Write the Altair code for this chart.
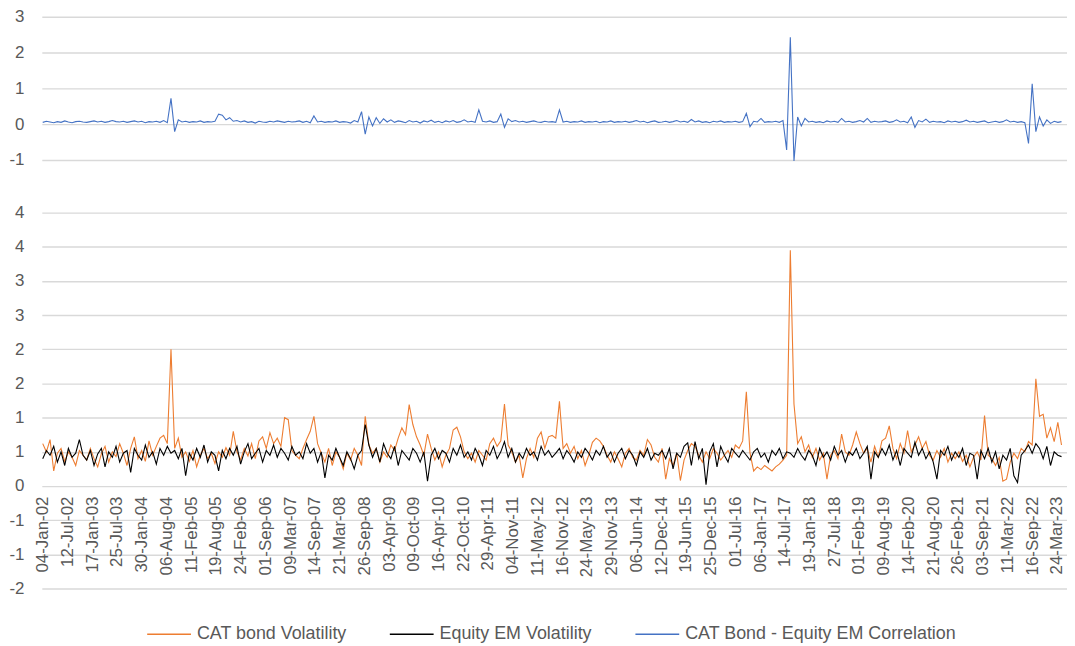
import altair as alt
import pandas as pd

# ---------------- data ----------------
tick_labels = [
    "04-Jan-02", "12-Jul-02", "17-Jan-03", "25-Jul-03", "30-Jan-04", "06-Aug-04",
    "11-Feb-05", "19-Aug-05", "24-Feb-06", "01-Sep-06", "09-Mar-07", "14-Sep-07",
    "21-Mar-08", "26-Sep-08", "03-Apr-09", "09-Oct-09", "16-Apr-10", "22-Oct-10",
    "29-Apr-11", "04-Nov-11", "11-May-12", "16-Nov-12", "24-May-13", "29-Nov-13",
    "06-Jun-14", "12-Dec-14", "19-Jun-15", "25-Dec-15", "01-Jul-16", "06-Jan-17",
    "14-Jul-17", "19-Jan-18", "27-Jul-18", "01-Feb-19", "09-Aug-19", "14-Feb-20",
    "21-Aug-20", "26-Feb-21", "03-Sep-21", "11-Mar-22", "16-Sep-22", "24-Mar-23",
]

# one value every 4 weeks, starting 04-Jan-02
cat_vol = [
    0.62, 0.50, 0.68, 0.22, 0.48, 0.55, 0.36, 0.50, 0.42, 0.30,
    0.52, 0.45, 0.38, 0.55, 0.40, 0.28, 0.47, 0.58, 0.35, 0.50,
    0.43, 0.62, 0.48, 0.30, 0.55, 0.72, 0.40, 0.52, 0.36, 0.66,
    0.45, 0.58, 0.70, 0.74, 0.62, 2.00, 0.55, 0.70, 0.42, 0.50,
    0.36, 0.52, 0.28, 0.45, 0.55, 0.40, 0.48, 0.33, 0.50, 0.42,
    0.56, 0.45, 0.80, 0.50, 0.38, 0.55, 0.44, 0.62, 0.40, 0.66,
    0.72, 0.55, 0.78, 0.62, 0.70, 0.58, 1.00, 0.97, 0.52, 0.45,
    0.40, 0.55, 0.68, 0.80, 1.02, 0.62, 0.48, 0.35, 0.55, 0.30,
    0.50, 0.42, 0.25, 0.48, 0.38, 0.55, 0.45, 0.30, 1.02, 0.60,
    0.48, 0.55, 0.35, 0.50, 0.42, 0.60, 0.52, 0.70, 0.85, 0.75,
    1.19, 0.90, 0.72, 0.60, 0.45, 0.76, 0.55, 0.38, 0.50, 0.28,
    0.45, 0.55, 0.82, 0.86, 0.72, 0.50, 0.40, 0.48, 0.35, 0.52,
    0.45, 0.38, 0.62, 0.70, 0.58, 0.66, 1.20, 0.60, 0.50, 0.35,
    0.45, 0.12, 0.40, 0.55, 0.42, 0.70, 0.79, 0.55, 0.72, 0.74,
    0.70, 1.24, 0.55, 0.62, 0.48, 0.58, 0.40, 0.52, 0.30, 0.45,
    0.64, 0.70, 0.66, 0.58, 0.45, 0.35, 0.50, 0.40, 0.28, 0.48,
    0.55, 0.42, 0.38, 0.52, 0.45, 0.68, 0.60, 0.42, 0.35, 0.55,
    0.10, 0.40, 0.30, 0.48, 0.08, 0.38, 0.52, 0.62, 0.58, 0.45,
    0.35, 0.50, 0.40, 0.55, 0.48, 0.38, 0.45, 0.52, 0.42, 0.60,
    0.55, 0.66, 1.38, 0.48, 0.22, 0.28, 0.24, 0.30, 0.26, 0.22,
    0.28, 0.32, 0.38, 0.45, 3.45, 1.20, 0.62, 0.72, 0.50, 0.60,
    0.42, 0.55, 0.38, 0.48, 0.10, 0.45, 0.52, 0.40, 0.76, 0.50,
    0.45, 0.60, 0.79, 0.62, 0.48, 0.55, 0.35, 0.58, 0.42, 0.66,
    0.70, 0.88, 0.55, 0.40, 0.62, 0.48, 0.81, 0.50, 0.60, 0.72,
    0.55, 0.65, 0.45, 0.38, 0.52, 0.42, 0.55, 0.35, 0.48, 0.40,
    0.50, 0.36, 0.45, 0.28, 0.42, 0.50, 0.38, 1.03, 0.45, 0.40,
    0.30, 0.42, 0.07, 0.10, 0.35, 0.48, 0.40, 0.55, 0.50, 0.65,
    0.60, 1.57, 1.02, 1.05, 0.70, 0.85, 0.65, 0.93, 0.60,
]

em_vol = [
    0.40, 0.52, 0.45, 0.58, 0.35, 0.50, 0.30, 0.55, 0.42, 0.48,
    0.68, 0.45, 0.38, 0.52, 0.30, 0.47, 0.55, 0.28, 0.50, 0.42,
    0.58, 0.35, 0.48, 0.52, 0.20, 0.55, 0.45, 0.38, 0.60, 0.42,
    0.50, 0.32, 0.55, 0.45, 0.58, 0.48, 0.52, 0.40, 0.55, 0.15,
    0.48, 0.38, 0.55, 0.42, 0.60, 0.35, 0.50, 0.45, 0.22, 0.52,
    0.40, 0.55, 0.45, 0.58, 0.32, 0.50, 0.62, 0.40, 0.48, 0.55,
    0.35, 0.52, 0.45, 0.60, 0.42, 0.55, 0.48, 0.38, 0.58, 0.45,
    0.50, 0.40, 0.62, 0.48, 0.55, 0.35, 0.50, 0.12, 0.45, 0.38,
    0.55, 0.42, 0.30, 0.50, 0.40, 0.25, 0.45, 0.52, 0.90, 0.60,
    0.42, 0.55, 0.35, 0.62, 0.48, 0.40, 0.58, 0.30, 0.52, 0.45,
    0.38, 0.55, 0.48, 0.35, 0.50, 0.07, 0.45, 0.55, 0.40, 0.52,
    0.48, 0.35, 0.55, 0.45, 0.60, 0.42, 0.50, 0.38, 0.55, 0.45,
    0.30, 0.52, 0.45, 0.58, 0.40, 0.50, 0.65, 0.42, 0.55, 0.35,
    0.48, 0.40, 0.55, 0.45, 0.50, 0.38, 0.58, 0.45, 0.52, 0.42,
    0.48, 0.55, 0.40, 0.52, 0.45, 0.35, 0.50, 0.42, 0.55, 0.48,
    0.38, 0.52, 0.45, 0.58, 0.42, 0.50, 0.35, 0.48, 0.55, 0.40,
    0.52, 0.45, 0.30, 0.50, 0.42, 0.55, 0.38, 0.48, 0.45, 0.52,
    0.40, 0.55, 0.25, 0.48, 0.42, 0.58, 0.63, 0.30, 0.65, 0.40,
    0.55, 0.02, 0.50, 0.62, 0.28, 0.58, 0.45, 0.35, 0.55, 0.48,
    0.42, 0.52, 0.45, 0.38, 0.50, 0.55, 0.42, 0.48, 0.35, 0.52,
    0.45, 0.55, 0.40, 0.50, 0.48, 0.42, 0.55, 0.45, 0.38, 0.52,
    0.45, 0.30, 0.55, 0.42, 0.50, 0.38, 0.58, 0.45, 0.52, 0.35,
    0.50, 0.45, 0.55, 0.40, 0.48, 0.58, 0.10, 0.50, 0.42, 0.55,
    0.45, 0.60, 0.38, 0.52, 0.30, 0.55, 0.48, 0.42, 0.64, 0.45,
    0.55, 0.40, 0.50, 0.35, 0.10, 0.52, 0.45, 0.58, 0.38, 0.50,
    0.42, 0.55, 0.30, 0.48, 0.45, 0.10, 0.52, 0.40, 0.55, 0.35,
    0.50, 0.25, 0.45, 0.38, 0.55, 0.15, 0.05, 0.45, 0.52, 0.60,
    0.48, 0.62, 0.55, 0.40, 0.58, 0.30, 0.50, 0.45, 0.43,
]

corr = [
    0.05, 0.08, 0.06, 0.04, 0.07, 0.05, 0.09, 0.06, 0.04, 0.07,
    0.08, 0.06, 0.05, 0.07, 0.09, 0.06, 0.08, 0.05, 0.07, 0.10,
    0.07, 0.06, 0.08, 0.05, 0.07, 0.09, 0.06, 0.08, 0.04, 0.07,
    0.06, 0.08, 0.05, 0.10, 0.04, 0.72, -0.21, 0.12, 0.06, 0.08,
    0.05, 0.07, 0.06, 0.09, 0.05, 0.07, 0.06, 0.08, 0.28, 0.25,
    0.12, 0.18, 0.08, 0.10, 0.06, 0.09, 0.05, 0.07, 0.03, 0.08,
    0.06, 0.05, 0.08, 0.06, 0.09, 0.07, 0.05, 0.08, 0.06, 0.07,
    0.09, 0.05, 0.08, 0.04, 0.23, 0.06, 0.08, 0.05, 0.07, 0.06,
    0.09, 0.05, 0.07, 0.06, 0.03, 0.10, 0.06, 0.35, -0.28, 0.20,
    -0.05, 0.18, 0.02, 0.15, 0.06, 0.12, 0.05, 0.09, 0.07, 0.04,
    0.10, 0.06, 0.08, 0.03, 0.09, 0.06, 0.11, 0.05, 0.08, 0.04,
    0.09, 0.06, 0.10, 0.05, 0.07, 0.12, 0.06, 0.08, 0.05, 0.40,
    0.08, 0.06, 0.09, 0.05, 0.07, 0.28, -0.09, 0.15, 0.07, 0.10,
    0.06, 0.08, 0.05, 0.07, 0.09, 0.06, 0.05, 0.08, 0.06, 0.07,
    0.05, 0.40, 0.06, 0.08, 0.05, 0.07, 0.06, 0.09, 0.05, 0.07,
    0.06, 0.08, 0.04, 0.07, 0.06, 0.09, 0.05, 0.07, 0.06, 0.08,
    0.05, 0.07, 0.10, 0.06, 0.08, 0.04, 0.07, 0.09, 0.05, 0.06,
    0.08, 0.05, 0.07, 0.10, 0.06, 0.08, 0.05, 0.13, 0.06, 0.09,
    0.05, 0.07, 0.04, 0.08, 0.06, 0.09, 0.05, 0.07, 0.06, 0.08,
    0.05, 0.07, 0.30, -0.07, 0.08, 0.06, 0.16, 0.05, 0.07, 0.06,
    0.08, 0.05, 0.10, -0.72, 2.43, -1.03, 0.20, -0.05, 0.16, 0.06,
    0.08, 0.05, 0.07, 0.04, 0.09, 0.06, 0.08, 0.05, 0.16, 0.06,
    0.08, 0.05, 0.07, 0.10, 0.06, 0.16, 0.05, 0.08, 0.06, 0.07,
    0.09, 0.05, 0.07, 0.12, 0.06, 0.08, 0.04, 0.20, -0.09, 0.10,
    0.06, 0.14, 0.05, 0.08, 0.06, 0.07, 0.04, 0.09, 0.06, 0.08,
    0.05, 0.07, 0.11, 0.06, 0.08, 0.05, 0.07, 0.09, 0.04, 0.06,
    0.08, 0.05, 0.07, 0.12, 0.06, 0.08, 0.05, 0.07, 0.04, -0.54,
    1.13, -0.21, 0.20, -0.05, 0.12, 0.02, 0.08, 0.05, 0.07,
]

series_names = ["CAT bond Volatility", "Equity EM Volatility",
                "CAT Bond - Equity EM Correlation"]
series_colors = ["#ED7D31", "#000000", "#4472C4"]

STEP = 4         # weeks between stored values
TICK_EVERY = 27  # weeks between category labels

# ---------------- tables ----------------
def frame(values, name):
    return pd.DataFrame({"week": [i * STEP for i in range(len(values))],
                         "value": values, "series": name})

df_cat = frame(cat_vol, series_names[0])
df_em = frame(em_vol, series_names[1])
df_corr = frame(corr, series_names[2])

# ---------------- styling ----------------
FONT = "Liberation Sans"
TXT = "#595959"
GRID = "#D9D9D9"
W = 1031

x_scale = alt.Scale(domain=[-1, 1118], nice=False, zero=False)
color = alt.Color(
    "series:N",
    scale=alt.Scale(domain=series_names, range=series_colors),
    legend=alt.Legend(
        title=None, orient="none", direction="horizontal",
        legendX=105, legendY=598,
        symbolType="stroke", symbolSize=1940, symbolStrokeWidth=1.6,
        labelFont=FONT, labelFontSize=18, labelColor=TXT, labelLimit=400,
        labelOffset=5, columnPadding=39,
    ),
)

label_array = "[" + ",".join("'%s'" % t for t in tick_labels) + "]"
x_ticks = [i * TICK_EVERY for i in range(len(tick_labels))]

def y_axis(vals, expr):
    return alt.Axis(values=vals, title=None, grid=True, gridColor=GRID, gridWidth=1.4,
                    domain=False, ticks=False, labelFont=FONT, labelFontSize=17,
                    labelColor=TXT, labelPadding=18, minExtent=34, labelExpr=expr)

top_expr = "datum.value < 0 ? '-' + (-datum.value) : '' + datum.value"
top = alt.Chart(df_corr).mark_line(strokeWidth=1.1).encode(
    x=alt.X("week:Q", scale=x_scale, axis=None),
    y=alt.Y("value:Q", scale=alt.Scale(domain=[-1, 3], nice=False, zero=False),
            axis=y_axis([-1, 0, 1, 2, 3], top_expr)),
    color=color,
).properties(width=W, height=144)

bottom_height = 378
ymin, ymax = -1.5, 4.0
zero_offset = -round(bottom_height * (0 - ymin) / (ymax - ymin))
# Excel-style "0" number format: round half away from zero, plain hyphen
round_expr = ("datum.value >= 0 ? '' + floor(datum.value + 0.5) : "
              "'-' + floor(-datum.value + 0.5)")

y_bottom = alt.Y("value:Q", scale=alt.Scale(domain=[ymin, ymax], nice=False, zero=False),
                 axis=y_axis([-1.5, -1, -0.5, 0, 0.5, 1, 1.5, 2, 2.5, 3, 3.5, 4], round_expr))
x_bottom = alt.X(
    "week:Q", scale=x_scale,
    axis=alt.Axis(values=x_ticks, title=None, grid=False, domain=False, ticks=False,
                  labelAngle=-90, labelFont=FONT, labelFontSize=17, labelColor=TXT,
                  labelPadding=10, labelOverlap=False, labelFlush=False,
                  offset=zero_offset,
                  labelExpr=label_array + "[round(datum.value / %d)]" % TICK_EVERY),
)

cat_layer = alt.Chart(df_cat).mark_line(strokeWidth=1.1).encode(
    x=x_bottom, y=y_bottom, color=color)
em_layer = alt.Chart(df_em).mark_line(strokeWidth=1.1).encode(
    x=x_bottom, y=y_bottom, color=color)
bottom = alt.layer(cat_layer, em_layer).properties(width=W, height=bottom_height)

chart = alt.vconcat(top, bottom, spacing=36).properties(
    padding={"left": 0, "top": -2, "right": 0, "bottom": 0},
    background="white",
).configure_view(stroke=None).configure_concat(spacing=36)

chart.save("out.html", embed_options={"renderer": "svg", "actions": False})
